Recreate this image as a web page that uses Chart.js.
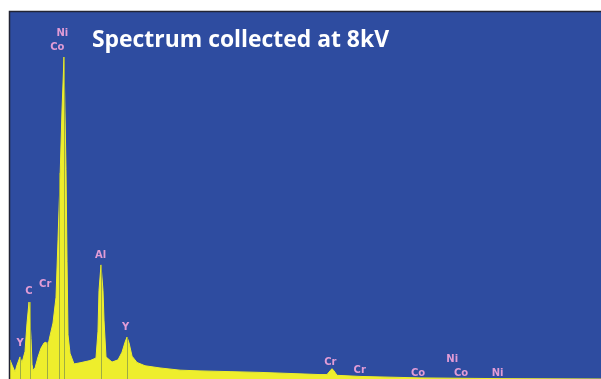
<!DOCTYPE html>
<html>
<head>
<meta charset="utf-8">
<script src="https://cdn.jsdelivr.net/npm/chart.js@4/dist/chart.umd.min.js"></script>
<style>
  html, body { margin: 0; padding: 0; background: #ffffff; }
  #wrap { width: 601px; height: 379px; position: relative; }
</style>
</head>
<body>
<div id="wrap"><canvas id="c" width="601" height="379"></canvas></div>
<script>
// EDS spectrum, energy in keV against counts
const energyKeV = [
  -0.075, -0.058, -0.024, 0.027, 0.061, 0.112, 0.146, 0.197, 0.231, 0.265,
  0.299, 0.316, 0.333, 0.367, 0.418, 0.469, 0.520, 0.553, 0.587, 0.621,
  0.672, 0.723, 0.757, 0.791, 0.825, 0.859, 0.893, 0.910, 0.927, 0.961,
  1.029, 1.131, 1.301, 1.402, 1.436, 1.453, 1.487, 1.521, 1.538, 1.572,
  1.674, 1.776, 1.844, 1.895, 1.929, 1.963, 2.014, 2.098, 2.234, 2.489,
  2.829, 3.168, 3.678, 4.187, 4.696, 5.205, 5.324, 5.375, 5.409, 5.443,
  5.494, 5.885, 6.394, 6.904, 8.262, 9.976
];
const counts = [
  0, 52, 38, 19, 38, 60, 44, 75, 152, 209,
  110, 40, 24, 30, 60, 84, 98, 100, 92, 117,
  152, 222, 378, 541, 731, 875, 570, 320, 120, 70,
  41, 44, 50, 57, 130, 240, 310, 240, 160, 60,
  46, 52, 73, 100, 114, 98, 62, 45, 36, 30,
  24, 22, 20, 18, 15, 12, 12, 22, 28, 22,
  10, 7, 5, 3, 1, 0
];

// element line markers (energy, peak height)
const markerKeV = [0.112, 0.277, 0.573, 0.776, 0.851, 1.487, 1.922];
const markerTop = [60, 209, 100, 560, 875, 310, 114];

// element labels (text, energy, label height in counts)
const labelText = ['Y', 'C', 'Cr', 'Co', 'Ni', 'Al', 'Y', 'Cr', 'Cr', 'Co', 'Ni', 'Co', 'Ni'];
const labelKeV  = [0.112, 0.262, 0.540, 0.745, 0.830, 1.480, 1.905, 5.380, 5.880, 6.870, 7.450, 7.600, 8.220];
const labelAt   = [98, 239, 258, 902, 938, 337, 139, 46, 22, 16, 52, 16, 16];

const titleText = 'Spectrum collected at 8kV';

const BLUE = 'rgb(46,76,160)';
const YELLOW = 'rgb(238,238,44)';
const LABEL = 'rgb(226,156,214)';

const backdrop = {
  id: 'backdrop',
  beforeDraw(chart) {
    const { ctx, chartArea: a } = chart;
    ctx.save();
    ctx.fillStyle = BLUE;
    ctx.fillRect(a.left, a.top, a.right - a.left, a.bottom - a.top);
    ctx.restore();
  },
  afterDraw(chart) {
    const { ctx, chartArea: a } = chart;
    ctx.save();
    ctx.strokeStyle = 'rgb(34,36,52)';
    ctx.lineWidth = 1.5;
    ctx.beginPath();
    ctx.moveTo(a.left + 0.5, a.bottom);
    ctx.lineTo(a.left + 0.5, a.top + 0.5);
    ctx.lineTo(a.right, a.top + 0.5);
    ctx.stroke();
    ctx.restore();
  }
};

const markers = {
  id: 'markers',
  afterDatasetsDraw(chart) {
    const { ctx, scales: { x, y } } = chart;
    ctx.save();
    ctx.lineWidth = 1;
    markerKeV.forEach((e, i) => {
      const px = Math.round(x.getPixelForValue(e)) + 0.5;
      ctx.strokeStyle = 'rgba(150,165,70,0.9)';
      ctx.beginPath();
      ctx.moveTo(px, y.getPixelForValue(0));
      ctx.lineTo(px, y.getPixelForValue(markerTop[i]));
      ctx.stroke();
    });
    ctx.font = 'bold 10px "DejaVu Sans"';
    ctx.textAlign = 'center';
    ctx.textBaseline = 'middle';
    ctx.fillStyle = LABEL;
    labelText.forEach((t, i) => {
      ctx.fillText(t, x.getPixelForValue(labelKeV[i]), y.getPixelForValue(labelAt[i]));
    });
    ctx.restore();
  }
};

const heading = {
  id: 'heading',
  afterDraw(chart) {
    const { ctx, chartArea: a } = chart;
    ctx.save();
    ctx.font = 'bold 23px "Open Sans"';
    ctx.fillStyle = '#ffffff';
    ctx.textAlign = 'left';
    ctx.textBaseline = 'alphabetic';
    ctx.fillText(titleText, a.left + 83, a.top + 36, 297);
    ctx.restore();
  }
};

new Chart(document.getElementById('c'), {
  type: 'line',
  data: {
    datasets: [{
      data: energyKeV.map((e, i) => ({ x: e, y: counts[i] })),
      borderColor: YELLOW,
      borderWidth: 1,
      backgroundColor: YELLOW,
      fill: 'origin',
      pointRadius: 0,
      tension: 0
    }]
  },
  options: {
    responsive: false,
    animation: false,
    layout: { padding: { left: 9, top: 11, right: 0, bottom: 0 } },
    plugins: { legend: { display: false }, tooltip: { enabled: false } },
    scales: {
      x: { type: 'linear', min: -0.075, max: 9.976, display: false },
      y: { min: 0, max: 1000, display: false }
    }
  },
  plugins: [backdrop, markers, heading]
});
</script>
</body>
</html>
